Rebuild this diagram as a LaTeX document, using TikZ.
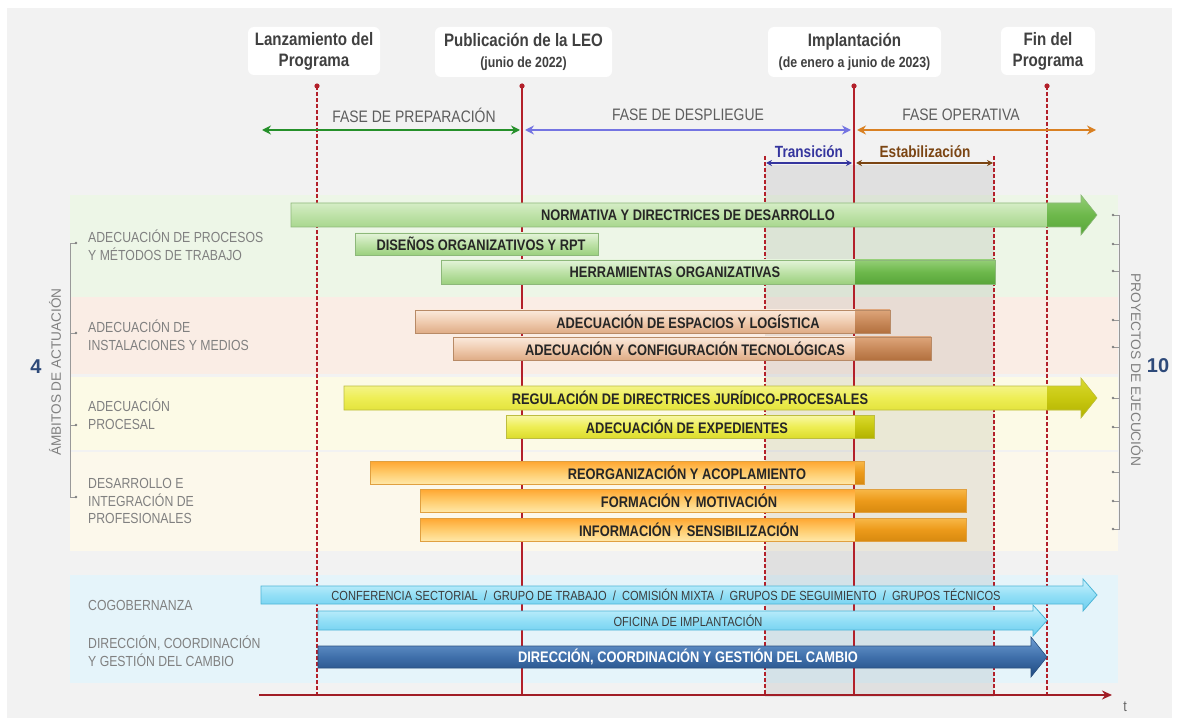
\documentclass[tikz,border=0pt]{standalone}
\usepackage{fontspec}
\setmainfont{Liberation Sans}
\newfontfamily\nar[FakeStretch=0.84]{Liberation Sans}
\newcommand\subfnt{\nar\bfseries\fontsize{14.7}{17}\selectfont}
\usetikzlibrary{arrows.meta}
\definecolor{bg}{HTML}{F2F2F2}
\definecolor{lnG}{HTML}{EDF6E7}
\definecolor{lnP}{HTML}{FAEDE5}
\definecolor{lnY}{HTML}{FCFAE6}
\definecolor{lnC}{HTML}{FCF8EB}
\definecolor{lnB}{HTML}{E5F4FA}
\definecolor{redl}{HTML}{B3202A}
\definecolor{hdr}{HTML}{404040}
\definecolor{lbl}{HTML}{808080}
\definecolor{num}{HTML}{2E4A7A}
\definecolor{phG}{HTML}{25902A}
\definecolor{phB}{HTML}{7474E2}
\definecolor{phO}{HTML}{D98022}
\definecolor{trB}{HTML}{35359E}
\definecolor{esB}{HTML}{7B4513}
\definecolor{btxt}{HTML}{262626}
% bar colours
\definecolor{gA}{HTML}{E4F4DA}\definecolor{gB}{HTML}{BEE2A8}\definecolor{gC}{HTML}{9BD07E}
\definecolor{gDA}{HTML}{94CE76}\definecolor{gDB}{HTML}{6DB84B}\definecolor{gDC}{HTML}{58A63A}\definecolor{gE}{HTML}{8DB87A}
\definecolor{bA}{HTML}{FBEADD}\definecolor{bB}{HTML}{F0CCB0}\definecolor{bC}{HTML}{DFAC86}
\definecolor{bDA}{HTML}{DDA57A}\definecolor{bDB}{HTML}{C8895A}\definecolor{bDC}{HTML}{B2703E}\definecolor{bE}{HTML}{B88A66}
\definecolor{yA}{HTML}{F8F8A8}\definecolor{yB}{HTML}{EEEE55}\definecolor{yC}{HTML}{DCDC2C}
\definecolor{yDA}{HTML}{DADA30}\definecolor{yDB}{HTML}{C8C810}\definecolor{yDC}{HTML}{B2B200}\definecolor{yE}{HTML}{BDBD40}
\definecolor{oA}{HTML}{FFA630}\definecolor{oB}{HTML}{FFCB6B}\definecolor{oC}{HTML}{FFE8A8}
\definecolor{oDA}{HTML}{F8B848}\definecolor{oDB}{HTML}{EC9A1A}\definecolor{oDC}{HTML}{D88A10}\definecolor{oE}{HTML}{E0A040}
\definecolor{cA}{HTML}{CDF2FD}\definecolor{cB}{HTML}{93DFF6}\definecolor{cC}{HTML}{6ACDEE}\definecolor{cE}{HTML}{4DB5D6}
\definecolor{dA}{HTML}{6E9DD3}\definecolor{dB}{HTML}{3F6FAA}\definecolor{dC}{HTML}{1F4A80}\definecolor{dE}{HTML}{2A5080}

\newcommand\rbar[6]{% x1, xd, x2, ytop, ybot, family
  \shade[#6L] (#1,#4) rectangle (#2,#5);
  \shade[#6D] (#2,#4) rectangle (#3,#5);
  \draw[#6E] (#1,#4) rectangle (#3,#5);}
\newcommand\pbar[5]{% x1, x2, ytop, ybot, family
  \shade[#5L] (#1,#3) rectangle (#2,#4);
  \draw[#5E] (#1,#3) rectangle (#2,#4);}
\newcommand\abar[8]{% x1, xd, xh, xt, ytop, ybot, overhang, family
  \def\ap{(#1,#5) -- (#3,#5) -- (#3,{#5-#7}) -- (#4,{(#5+#6)/2}) -- (#3,{#6+#7}) -- (#3,#6) -- (#1,#6) -- cycle}%
  \shade[#8L] \ap;
  \begin{scope}\clip (#2,0) rectangle (1300,800); \shade[#8D] \ap; \end{scope}
  \draw[#8E] \ap;}

\begin{document}
\begin{tikzpicture}[x=1pt,y=-1pt,
  hbox/.style={fill=white,rounded corners=6pt,inner sep=0pt,align=center,text=hdr,
     font=\nar\bfseries\fontsize{18}{21}\selectfont},
  phase/.style={text=hdr!85,font=\nar\fontsize{16.6}{19}\selectfont},
  lane/.style={anchor=west,align=left,text=lbl,inner sep=0pt,font=\nar\fontsize{14.6}{17.5}\selectfont},
  bartxt/.style={text=btxt,inner sep=0pt,font=\nar\bfseries\fontsize{15.3}{17}\selectfont},
  cotxt/.style={text=btxt!90,inner sep=0pt,font=\nar\fontsize{13.2}{15}\selectfont},
  vsolid/.style={draw=redl,line width=1.6pt},
  vdash/.style={draw=redl,line width=1.2pt,dash pattern=on 4pt off 2pt},
  gL/.style={top color=gA,bottom color=gC,middle color=gB},
  gD/.style={top color=gDA,bottom color=gDC,middle color=gDB},
  gE/.style={draw=gE,line width=0.6pt},
  bL/.style={top color=bA,bottom color=bC,middle color=bB},
  bD/.style={top color=bDA,bottom color=bDC,middle color=bDB},
  bE/.style={draw=bE,line width=0.6pt},
  yL/.style={top color=yA,bottom color=yC,middle color=yB},
  yD/.style={top color=yDA,bottom color=yDC,middle color=yDB},
  yE/.style={draw=yE,line width=0.6pt},
  oL/.style={top color=oA,bottom color=oC,middle color=oB},
  oD/.style={top color=oDA,bottom color=oDC,middle color=oDB},
  oE/.style={draw=oE,line width=0.6pt},
  cL/.style={top color=cA,bottom color=cC,middle color=cB},
  cD/.style={top color=cA,bottom color=cC,middle color=cB},
  cE/.style={draw=cE,line width=0.8pt},
  dL/.style={top color=dA,bottom color=dC,middle color=dB},
  dD/.style={top color=dA,bottom color=dC,middle color=dB},
  dE/.style={draw=dE,line width=0.6pt},
  ph/.style={line width=2.2pt,{Stealth[length=9pt,width=9pt]}-{Stealth[length=9pt,width=9pt]}},
  sp/.style={line width=1.6pt,{Stealth[length=6pt,width=6pt]}-{Stealth[length=6pt,width=6pt]}},
  brk/.style={draw=lbl!80,line width=0.8pt},
  side/.style={text=lbl,font=\fontsize{13.6}{15}\selectfont},
]
\useasboundingbox (0,0) rectangle (1179,722);
\fill[white] (0,0) rectangle (1179,722);
\fill[bg] (7,8) rectangle (1172,718);

% header boxes
\node[hbox,minimum width=132pt,minimum height=48pt] (h1) at (314,51) {Lanzamiento del\\Programa};
\node[hbox,minimum width=177pt,minimum height=50pt] (h2) at (523.5,52) {Publicación de la LEO\\{\subfnt (junio de 2022)}};
\node[hbox,minimum width=173pt,minimum height=50pt] (h3) at (854.5,52) {Implantación\\{\subfnt (de enero a junio de 2023)}};
\node[hbox,minimum width=94pt,minimum height=48pt] (h4) at (1048,51) {Fin del\\Programa};

% lanes
\fill[lnG] (70,195) rectangle (1118,297);
\fill[lnP] (70,297) rectangle (1118,374);
\fill[lnY] (70,377) rectangle (1118,450);
\fill[lnC] (70,452) rectangle (1118,551);
\fill[lnB] (70,575) rectangle (1118,683);

% transition / stabilisation shade
\fill[black,opacity=0.07] (765,165) rectangle (994,697);

% vertical lines
\coordinate (v1t) at (317,86);  \coordinate (v1b) at (317,695);
\coordinate (v2t) at (522,86);  \coordinate (v2b) at (522,695);
\coordinate (v3t) at (854,86);  \coordinate (v3b) at (854,695);
\coordinate (v4t) at (1047,86); \coordinate (v4b) at (1047,695);
\coordinate (v5t) at (765,156); \coordinate (v5b) at (765,695);
\coordinate (v6t) at (994,156); \coordinate (v6b) at (994,695);
\draw[vdash] (v1t) -- (v1b);
\draw[vsolid] (v2t) -- (v2b);
\draw[vsolid] (v3t) -- (v3b);
\draw[vdash] (v4t) -- (v4b);
\draw[vdash] (v5t) -- (v5b);
\draw[vdash] (v6t) -- (v6b);
\foreach \p in {v1t,v2t,v3t,v4t} \fill[redl] (\p) circle (2.6pt);

% phases
\coordinate (pa) at (262,130); \coordinate (pb) at (520,130);
\coordinate (pc) at (525,130); \coordinate (pd) at (851,130);
\coordinate (pe) at (857,130); \coordinate (pf) at (1096,130);
\draw[ph,phG] (pa) -- (pb);
\draw[ph,phB] (pc) -- (pd);
\draw[ph,phO] (pe) -- (pf);
\node[phase] (f1) at (414,115) {FASE DE PREPARACIÓN};
\node[phase] (f2) at (688,115) {FASE DE DESPLIEGUE};
\node[phase] (f3) at (961,115) {FASE OPERATIVA};
\coordinate (ta) at (766,163); \coordinate (tb) at (852,163);
\coordinate (tc) at (856,163); \coordinate (td) at (993,163);
\draw[sp,trB] (ta) -- (tb);
\draw[sp,esB] (tc) -- (td);
\node[text=trB,font=\nar\bfseries\fontsize{16.2}{18}\selectfont] (tr) at (809,152) {Transición};
\node[text=esB,font=\nar\bfseries\fontsize{16.2}{18}\selectfont] (es) at (925,152) {Estabilización};

% lane labels
\node[lane] (l1) at (88,245) {ADECUACIÓN DE PROCESOS\\Y MÉTODOS DE TRABAJO};
\node[lane] (l2) at (88,335) {ADECUACIÓN DE\\INSTALACIONES Y MEDIOS};
\node[lane] (l3) at (88,414) {ADECUACIÓN\\PROCESAL};
\node[lane] (l4) at (88,501) {DESARROLLO E\\INTEGRACIÓN DE\\PROFESIONALES};
\node[lane] (l5) at (88,605) {COGOBERNANZA};
\node[lane] (l6) at (88,651) {DIRECCIÓN, COORDINACIÓN\\Y GESTIÓN DEL CAMBIO};

% bars: green
\abar{291}{1047}{1081}{1097}{203}{227}{8}{g}
\node[bartxt] (b1) at (688,215) {NORMATIVA Y DIRECTRICES DE DESARROLLO};
\pbar{355}{598}{233}{255}{g}
\node[bartxt] (b2) at (481,244) {DISEÑOS ORGANIZATIVOS Y RPT};
\rbar{441}{855}{995}{260}{284}{g}
\node[bartxt] (b3) at (675,272) {HERRAMIENTAS ORGANIZATIVAS};
% brown
\rbar{415}{855}{890}{310}{333}{b}
\node[bartxt] (b4) at (688,321.5) {ADECUACIÓN DE ESPACIOS Y LOGÍSTICA};
\rbar{453}{855}{931}{337}{360}{b}
\node[bartxt] (b5) at (685,348.5) {ADECUACIÓN Y CONFIGURACIÓN TECNOLÓGICAS};
% yellow
\abar{344}{1047}{1081}{1097}{386}{410}{8}{y}
\node[bartxt] (b6) at (690,398) {REGULACIÓN DE DIRECTRICES JURÍDICO-PROCESALES};
\rbar{506}{855}{874}{415}{438}{y}
\node[bartxt] (b7) at (687,426.5) {ADECUACIÓN DE EXPEDIENTES};
% orange
\rbar{370}{855}{864}{461}{484}{o}
\node[bartxt] (b8) at (687,472.5) {REORGANIZACIÓN Y ACOPLAMIENTO};
\rbar{420}{855}{966}{489}{512}{o}
\node[bartxt] (b9) at (689,500.5) {FORMACIÓN Y MOTIVACIÓN};
\rbar{420}{855}{966}{518}{541}{o}
\node[bartxt] (b10) at (689,529.5) {INFORMACIÓN Y SENSIBILIZACIÓN};
% blue
\abar{261}{2000}{1083}{1097}{586}{604}{7}{c}
\node[cotxt] (b11) at (666,595) {CONFERENCIA SECTORIAL \ / \ GRUPO DE TRABAJO \ / \ COMISIÓN MIXTA \ / \ GRUPOS DE SEGUIMIENTO \ / \ GRUPOS TÉCNICOS};
\abar{318}{2000}{1033}{1047}{611}{630}{6}{c}
\node[cotxt] (b12) at (688,620.5) {OFICINA DE IMPLANTACIÓN};
\abar{318}{2000}{1031}{1047}{646}{668}{9}{d}
\node[bartxt,text=white] (b13) at (688,657) {DIRECCIÓN, COORDINACIÓN Y GESTIÓN DEL CAMBIO};

% left bracket
\draw[brk] (76,243) -- (70,243) -- (70,497) -- (76,497);
\draw[brk] (70,333) -- (76,333);
\draw[brk] (70,425) -- (76,425);
\foreach \yy in {243,333,425,497} \fill[lbl] (76,\yy) circle (1.3pt);
\node[side,rotate=90] (amb) at (55,372) {ÁMBITOS DE ACTUACIÓN};
\node[text=num,font=\bfseries\fontsize{20}{22}\selectfont] (n4) at (36,367) {4};

% right bracket
\draw[brk] (1113,215) -- (1119,215) -- (1119,529) -- (1113,529);
\foreach \yy in {244,271,320,347,398,427,472,501} \draw[brk] (1113,\yy) -- (1119,\yy);
\foreach \yy in {215,244,271,320,347,398,427,472,501,529} \fill[lbl] (1113,\yy) circle (1.3pt);
\node[side,rotate=-90,font=\fontsize{13.8}{15}\selectfont] (pro) at (1137,370) {PROYECTOS DE EJECUCIÓN};
\node[text=num,font=\bfseries\fontsize{20}{22}\selectfont] (n10) at (1158,366) {10};

% time axis
\coordinate (ax0) at (259,695); \coordinate (ax1) at (1112,695);
\draw[draw=redl!90!black,line width=2pt,-{Stealth[length=10pt,width=9pt]}] (ax0) -- (ax1);
\node[text=hdr!80,font=\nar\fontsize{15}{17}\selectfont] (tt) at (1125,707) {t};
\end{tikzpicture}
\end{document}
